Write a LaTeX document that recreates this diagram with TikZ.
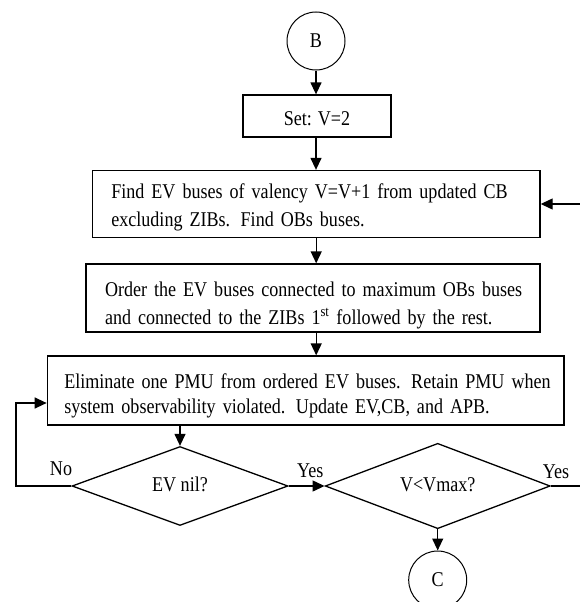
\documentclass[tikz,border=0pt]{standalone}
\usepackage{fontspec}
\setmainfont{Liberation Serif}[FakeStretch=0.86]
\usetikzlibrary{shapes.geometric,arrows.meta,positioning,calc}
\newcommand{\fillline}[2]{\makebox[#1][s]{#2}}
\hfuzz=20pt

\begin{document}
\begin{tikzpicture}[x=1pt,y=-1pt,font=\fontsize{21}{28}\selectfont,
  blk/.style={rectangle,draw,line width=1.3pt,inner sep=0pt,align=left},
  cond/.style={diamond,draw,line width=1.3pt,inner sep=0pt,text height=10pt,text depth=0pt},
  lnk/.style={circle,draw,line width=1pt,minimum size=58pt,inner sep=0pt},
  lbl/.style={inner sep=1pt},
  arr/.style={-{Triangle[length=12pt,width=11pt]},line width=1.3pt}]
\useasboundingbox (0,0) rectangle (579,602);
\node[lnk] (b) at (316,41) {B};
\node[blk,minimum width=148pt,minimum height=42pt,align=center,text height=18pt,text depth=0pt] (set) at (317,116) {Set: V=2};
\node[blk,minimum width=447.7pt,minimum height=67pt,text width=409.7pt,text height=17.45pt,text depth=29.45pt] (find) at (316.2,204)
  {\fillline{409pt}{Find EV buses of valency V=V+1 from updated CB}\\excluding ZIBs. Find OBs buses.};
\node[blk,minimum width=454pt,minimum height=68pt,text width=416pt,text height=21.45pt,text depth=25.45pt] (order) at (313,298)
  {\fillline{425pt}{Order the EV buses connected to maximum OBs buses}\\and connected to the ZIBs 1\textsuperscript{st} followed by the rest.};
\node[blk,minimum width=516.6pt,minimum height=69pt,text width=482.6pt,text height=19.45pt,text depth=24.45pt] (elim) at (305.6,390.5)
  {\fillline{488pt}{Eliminate one PMU from ordered EV buses. Retain PMU when}\\[-3pt]system observability violated. Update EV,CB, and APB.};
\node[cond,minimum width=216pt,minimum height=79pt] (nil) at (180,486) {EV nil?};
\node[cond,minimum width=225pt,minimum height=79pt] (vmax) at (437.7,486) {V<Vmax?};
\node[lnk] (c) at (437.7,580) {C};
\coordinate (fb) at (16,403);
\coordinate (rt) at (586,204);
\draw[arr] (b) -- (b |- set.north);
\draw[arr] (set.south -| b) -- (b |- find.north);
\draw[arr] (find.south) -- (find.south |- order.north);
\draw[arr] (order.south -| find.south) -- (find.south |- elim.north);
\draw[arr] (elim.south -| nil.north) -- (nil.north);
\draw[arr] (nil.east) -- (vmax.west) node[lbl,above=7pt,pos=0.6] (yes1) {Yes};
\draw[arr] (nil.west) -| (fb) -- (fb -| elim.west);
\node[lbl] (no) at (61,469) {No};
\draw[arr] (vmax.east) -| (rt) -- (find.east);
\node[lbl] (yes2) at (556,472) {Yes};
\draw[arr] (vmax.south) -- (c.north);
\end{tikzpicture}
\end{document}
